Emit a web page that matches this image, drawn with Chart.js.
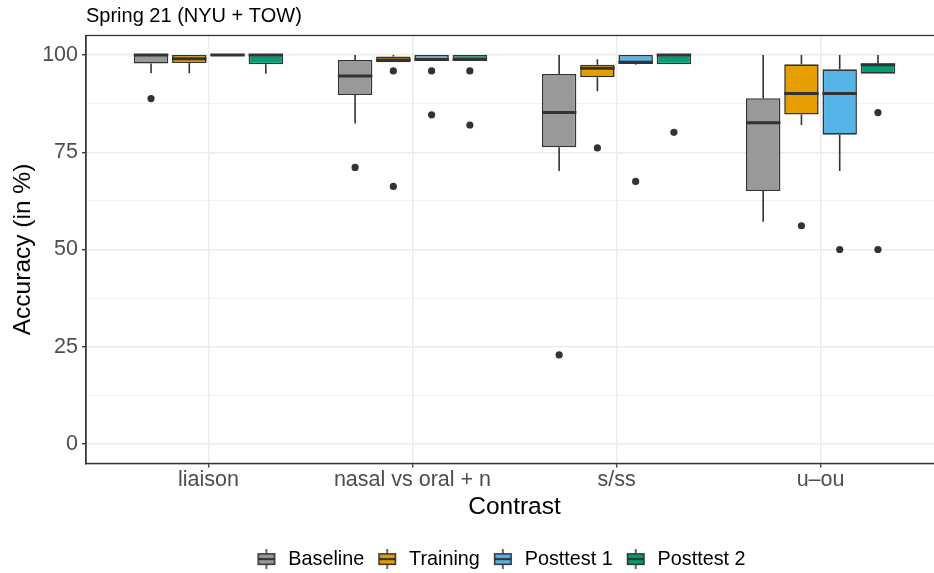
<!DOCTYPE html>
<html>
<head>
<meta charset="utf-8">
<title>Spring 21 (NYU + TOW)</title>
<script src="https://cdn.jsdelivr.net/npm/chart.js@4.4.1/dist/chart.umd.min.js"></script>
<style>
  html, body { margin: 0; padding: 0; background: #ffffff; overflow: hidden; }
  #frame { width: 934px; height: 573px; overflow: hidden; }
  #plot { display: block; }
</style>
</head>
<body>
<div id="frame"><canvas id="plot" width="1000" height="579"></canvas></div>
<script>
const contrasts = ["liaison", "nasal vs oral + n", "s/ss", "u\u2013ou"];
const phases = ["Baseline", "Training", "Posttest 1", "Posttest 2"];
const phaseColors = ["#999999", "#E69F00", "#56B4E9", "#009E73"];

// box summaries: one row per phase, one column per contrast
const whiskerLow = [
  [95.3, 82.4, 70.2, 57.1],
  [95.3, 98.1, 90.7, 82.0],
  [100, 98.5, 97.5, 70.2],
  [95.2, 98.5, 97.6, 95.2]
];
const hingeLow = [
  [97.8, 89.7, 76.3, 65.0],
  [97.9, 98.1, 94.3, 84.7],
  [100, 98.5, 97.7, 79.5],
  [97.6, 98.5, 97.6, 95.2]
];
const medians = [
  [100, 94.6, 85.2, 82.6],
  [99.0, 98.7, 96.6, 90.1],
  [100, 98.8, 98.1, 90.1],
  [100, 98.8, 100, 97.5]
];
const hingeHigh = [
  [100, 98.7, 95.1, 88.9],
  [100, 99.6, 97.5, 97.6],
  [100, 100, 100, 96.3],
  [100, 100, 100, 97.8]
];
const whiskerHigh = [
  [100, 100, 100, 100],
  [100, 100, 98.9, 100],
  [100, 100, 100, 100],
  [100, 100, 100, 100]
];
const outliers = [
  [[88.8], [71.1], [22.9], []],
  [[], [95.9, 66.2], [76.1], [56.1]],
  [[], [95.9, 84.6], [67.5], [50]],
  [[], [95.9, 82.0], [80.1], [85.2, 50]]
];

const yMajorTicks = [0, 25, 50, 75, 100];
const yMinorTicks = [12.5, 37.5, 62.5, 87.5];

const FONT = "'Liberation Sans', Arial, Helvetica, sans-serif";
const INK = "#333333";
const GRID = "#ebebeb";

// little boxplot glyph for each legend key
function keyGlyph(color) {
  const c = document.createElement("canvas");
  c.width = 20;
  c.height = 20;
  const g = c.getContext("2d");
  g.strokeStyle = INK;
  g.lineWidth = 1.5;
  g.beginPath();
  g.moveTo(10, 0); g.lineTo(10, 4);
  g.moveTo(10, 16); g.lineTo(10, 20);
  g.stroke();
  g.fillStyle = color;
  g.fillRect(1, 4, 18, 12);
  g.strokeRect(1.75, 4.75, 16.5, 10.5);
  g.lineWidth = 2.2;
  g.beginPath();
  g.moveTo(1, 10); g.lineTo(19, 10);
  g.stroke();
  return c;
}
const glyphs = phaseColors.map(keyGlyph);

const boxExtras = {
  id: "boxExtras",
  afterDatasetsDraw(chart) {
    const ctx = chart.ctx;
    const y = chart.scales.y;
    ctx.save();
    ctx.strokeStyle = INK;
    ctx.fillStyle = INK;
    phases.forEach((phase, i) => {
      chart.getDatasetMeta(i).data.forEach((bar, j) => {
        const half = bar.width / 2;
        ctx.lineWidth = 1.6;
        ctx.beginPath();
        ctx.moveTo(bar.x, y.getPixelForValue(hingeHigh[i][j]));
        ctx.lineTo(bar.x, y.getPixelForValue(whiskerHigh[i][j]));
        ctx.moveTo(bar.x, y.getPixelForValue(hingeLow[i][j]));
        ctx.lineTo(bar.x, y.getPixelForValue(whiskerLow[i][j]));
        ctx.stroke();

        const my = y.getPixelForValue(medians[i][j]);
        ctx.lineWidth = 3;
        ctx.beginPath();
        ctx.moveTo(bar.x - half, my);
        ctx.lineTo(bar.x + half, my);
        ctx.stroke();

        outliers[i][j].forEach((v) => {
          ctx.beginPath();
          ctx.arc(bar.x, y.getPixelForValue(v), 3.6, 0, Math.PI * 2);
          ctx.fill();
        });
      });
    });
    ctx.restore();
  },
  afterDraw(chart) {
    const { ctx, chartArea } = chart;
    ctx.save();
    ctx.strokeStyle = INK;
    ctx.lineWidth = 1.3;
    ctx.strokeRect(chartArea.left, chartArea.top, chartArea.right - chartArea.left, chartArea.bottom - chartArea.top);
    ctx.fillStyle = "#000000";
    ctx.font = "20px " + FONT;
    ctx.textAlign = "left";
    ctx.textBaseline = "alphabetic";
    ctx.fillText("Spring 21 (NYU + TOW)", chartArea.left, 22);
    ctx.restore();
  }
};

new Chart(document.getElementById("plot"), {
  type: "bar",
  data: {
    datasets: phases.map((phase, i) => ({
      label: phase,
      data: contrasts.map((c, j) => ({ x: j + 1, y: [hingeLow[i][j], hingeHigh[i][j]] })),
      backgroundColor: phaseColors[i],
      borderColor: INK,
      borderWidth: 1.6,
      borderSkipped: false,
      categoryPercentage: 0.75,
      barPercentage: 0.9
    }))
  },
  options: {
    responsive: false,
    devicePixelRatio: 1,
    animation: false,
    layout: { padding: { top: 35.5, left: 0, right: 0, bottom: 0 } },
    plugins: {
      tooltip: { enabled: false },
      title: { display: false },
      legend: {
        position: "bottom",
        labels: {
          usePointStyle: true,
          pointStyleWidth: 24,
          padding: 11,
          color: "#000000",
          font: { family: FONT, size: 19.8 },
          generateLabels(chart) {
            const items = Chart.defaults.plugins.legend.labels.generateLabels(chart);
            items.forEach((item, i) => { item.pointStyle = glyphs[i]; });
            return items;
          }
        }
      }
    },
    scales: {
      x: {
        type: "linear",
        offset: false,
        min: 0.4,
        max: 4.6,
        afterBuildTicks(scale) {
          scale.ticks = contrasts.map((c, j) => ({ value: j + 1 }));
        },
        afterFit(scale) { scale.height = 74.75; },
        ticks: {
          autoSkip: false,
          maxRotation: 0,
          padding: 0,
          color: "#4d4d4d",
          font: { family: FONT, size: 21.5 },
          callback: (v) => contrasts[v - 1]
        },
        grid: { offset: false, color: GRID, lineWidth: 1.4, tickLength: 4, tickColor: INK, tickWidth: 1.3 },
        border: { display: true, color: INK, width: 1.3 },
        title: {
          display: true,
          text: "Contrast",
          color: "#000000",
          font: { family: FONT, size: 24.5 },
          padding: { top: 0, bottom: 16 }
        }
      },
      y: {
        min: -5,
        max: 105,
        afterBuildTicks(scale) {
          scale.ticks = yMajorTicks.concat(yMinorTicks).sort((a, b) => a - b).map((v) => ({ value: v }));
        },
        afterFit(scale) { scale.width = 86; },
        ticks: {
          autoSkip: false,
          padding: 4,
          color: "#4d4d4d",
          font: { family: FONT, size: 21.5 },
          callback: (v) => (yMajorTicks.includes(v) ? String(v) : "")
        },
        grid: {
          color: GRID,
          lineWidth: (c) => (yMajorTicks.includes(c.tick.value) ? 1.4 : 0.7),
          tickLength: 4,
          tickColor: (c) => (yMajorTicks.includes(c.tick.value) ? INK : "rgba(0,0,0,0)"),
          tickWidth: 1.3
        },
        border: { display: true, color: INK, width: 1.3 },
        title: {
          display: true,
          text: "Accuracy (in %)",
          color: "#000000",
          font: { family: FONT, size: 24.5 },
          padding: { top: 9, bottom: 0 }
        }
      },
      edge: {
        position: "right",
        display: true,
        ticks: { display: false },
        grid: { display: false },
        border: { display: false },
        afterFit(scale) { scale.width = 57; }
      }
    }
  },
  plugins: [boxExtras]
});
</script>
</body>
</html>
